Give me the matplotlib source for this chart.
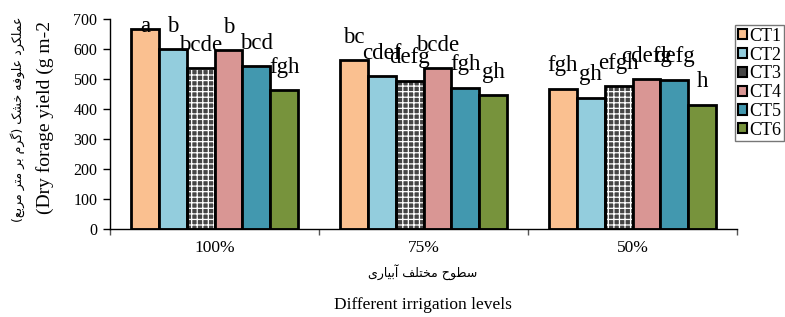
import numpy as np
import matplotlib
matplotlib.use("Agg")
import matplotlib.pyplot as plt
from matplotlib.patches import Patch

# ---------------- data ----------------
levels = ["100%", "75%", "50%"]
series = ["CT1", "CT2", "CT3", "CT4", "CT5", "CT6"]
CT1 = [665, 562, 467]
CT2 = [599, 510, 437]
CT3 = [535, 494, 475]
CT4 = [596, 535, 500]
CT5 = [542, 471, 497]
CT6 = [463, 446, 414]
letters_100 = ["a", "b", "bcde", "b", "bcd", "fgh"]
letters_75 = ["bc", "cdef", "defg", "bcde", "fgh", "gh"]
letters_50 = ["fgh", "gh", "efgh", "cdefg", "defg", "h"]

ylabel_fa = "عملکرد علوفه خشک (گرم بر متر مربع)"
ylabel_en = "(Dry forage yield (g m-2"
xlabel_fa = "سطوح مختلف آبیاری"
xlabel_en = "Different irrigation levels"

colors = ["#FAC090", "#93CDDD", "#454545", "#D99694", "#4298AF", "#77933C"]

# ---------------- simple Persian shaping (matplotlib has no bidi/shaping) ----------------
FORMS = {
    '\u0627': ('\uFE8D', '\uFE8E', None, None),
    '\u0622': ('\uFE81', '\uFE82', None, None),
    '\u0628': ('\uFE8F', '\uFE90', '\uFE91', '\uFE92'),
    '\u062A': ('\uFE95', '\uFE96', '\uFE97', '\uFE98'),
    '\u062D': ('\uFEA1', '\uFEA2', '\uFEA3', '\uFEA4'),
    '\u062E': ('\uFEA5', '\uFEA6', '\uFEA7', '\uFEA8'),
    '\u062F': ('\uFEA9', '\uFEAA', None, None),
    '\u0631': ('\uFEAD', '\uFEAE', None, None),
    '\u0633': ('\uFEB1', '\uFEB2', '\uFEB3', '\uFEB4'),
    '\u0634': ('\uFEB5', '\uFEB6', '\uFEB7', '\uFEB8'),
    '\u0637': ('\uFEC1', '\uFEC2', '\uFEC3', '\uFEC4'),
    '\u0639': ('\uFEC9', '\uFECA', '\uFECB', '\uFECC'),
    '\u0641': ('\uFED1', '\uFED2', '\uFED3', '\uFED4'),
    '\u06A9': ('\uFB8E', '\uFB8F', '\uFB90', '\uFB91'),
    '\u06AF': ('\uFB92', '\uFB93', '\uFB94', '\uFB95'),
    '\u0644': ('\uFEDD', '\uFEDE', '\uFEDF', '\uFEE0'),
    '\u0645': ('\uFEE1', '\uFEE2', '\uFEE3', '\uFEE4'),
    '\u0647': ('\uFEE9', '\uFEEA', '\uFEEB', '\uFEEC'),
    '\u0648': ('\uFEED', '\uFEEE', None, None),
    '\u06CC': ('\uFBFC', '\uFBFD', '\uFBFE', '\uFBFF'),
}
MIRROR = {'(': ')', ')': '('}


def shape(s):
    s = s.replace('\u0643', '\u06A9').replace('\u064A', '\u06CC')
    out = []
    for i, c in enumerate(s):
        f = FORMS.get(c)
        if f is None:
            out.append(MIRROR.get(c, c))
            continue
        prev = s[i - 1] if i > 0 else None
        nxt = s[i + 1] if i + 1 < len(s) else None
        pj = prev in FORMS and FORMS[prev][2] is not None
        nj = f[2] is not None and nxt in FORMS
        if pj and nj:
            g = f[3]
        elif pj:
            g = f[1]
        elif nj:
            g = f[2]
        else:
            g = f[0]
        out.append(g)
    return ''.join(reversed(out))


# ---------------- figure ----------------
plt.rcParams['font.family'] = ['Liberation Serif', 'DejaVu Sans']
plt.rcParams['hatch.linewidth'] = 0.9

W, H = 785, 317
fig = plt.figure(figsize=(W / 100, H / 100), dpi=100)
ax = fig.add_axes([110 / W, 1 - 228.7 / H, (737 - 110) / W, (228.7 - 19) / H])

values = [CT1, CT2, CT3, CT4, CT5, CT6]
letters = np.array([letters_100, letters_75, letters_50]).T
x = np.arange(len(levels))
nb = len(series)
bw = 0.8 / nb

for j in range(nb):
    xs = x - 0.4 + bw * (j + 0.5)
    v = values[j]
    if j == 2:
        ax.bar(xs, v, bw, color=colors[j], edgecolor="white", hatch="+++",
               linewidth=0, zorder=2)
        ax.bar(xs, v, bw, fill=False, edgecolor="black", linewidth=2, zorder=3)
    else:
        ax.bar(xs, v, bw, color=colors[j], edgecolor="black", linewidth=2, zorder=3)
    for xi, vi, lab in zip(xs, v, letters[j]):
        ax.text(xi, min(vi + 58, 658), lab, ha="center", va="baseline",
                fontsize=16.5, family="Liberation Serif", zorder=5)

ax.set_xlim(-0.5, 2.5)
ax.set_ylim(0, 700)
ax.set_yticks(np.arange(0, 701, 100))
ax.tick_params(axis="y", direction="out", length=5, width=1, labelsize=11.5, pad=4)
ax.set_xticks([-0.5, 0.5, 1.5, 2.5])
ax.set_xticklabels([])
ax.set_xticks(x, minor=True)
ax.set_xticklabels(levels, minor=True)
ax.tick_params(axis="x", which="major", direction="out", length=4, width=1, color="#555555")
ax.tick_params(axis="x", which="minor", length=0, labelsize=12.5, pad=8)

for s in ["top", "right"]:
    ax.spines[s].set_visible(False)
for s in ["left", "bottom"]:
    ax.spines[s].set_linewidth(1)
    ax.spines[s].set_zorder(6)

# axis titles
fig.text(423 / W, 1 - 272 / H, shape(xlabel_fa), ha="center", va="center",
         fontsize=9, family="DejaVu Sans")
fig.text(423 / W, 1 - 305 / H, xlabel_en, ha="center", va="center", fontsize=12.5)
fig.text(18 / W, 1 - 119 / H, shape(ylabel_fa), ha="center", va="center",
         rotation=90, fontsize=9, family="DejaVu Sans")
fig.text(45 / W, 1 - 117 / H, ylabel_en, ha="center", va="center",
         rotation=90, fontsize=14)

# legend
handles = []
for j in range(nb):
    handles.append(Patch(facecolor=colors[j], edgecolor="black", linewidth=1.5))
leg = fig.legend(handles, series, loc="upper left", bbox_to_anchor=(735 / W, 1 - 25 / H),
                 fontsize=13, frameon=True, fancybox=False, handlelength=0.5,
                 handleheight=0.5, handletextpad=0.15, labelspacing=0.1,
                 borderpad=0.15, borderaxespad=0)
leg.get_frame().set_edgecolor("#555555")
leg.get_frame().set_linewidth(1)

fig.savefig("out.png", dpi=100)
